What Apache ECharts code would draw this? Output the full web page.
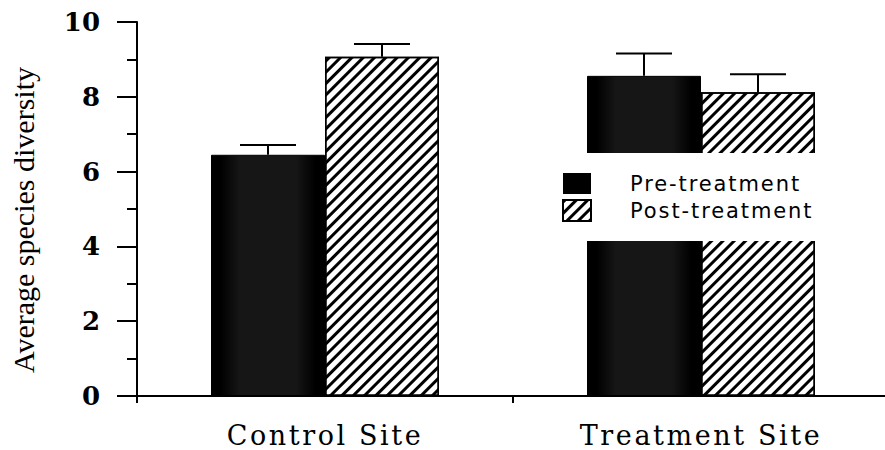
<!DOCTYPE html>
<html>
<head>
<meta charset="utf-8">
<script src="https://cdn.jsdelivr.net/npm/echarts@6/dist/echarts.min.js"></script>
<style>
  html, body { margin: 0; padding: 0; background: #fff; }
  #chart { width: 885px; height: 450px; }
  /* wide-set spacing for category names and legend entries */
  #chart text[style*="27px"][style*="DejaVu Serif"] { letter-spacing: 2.6px; }
  #chart text[style*="21px"] { letter-spacing: 1.9px; }
</style>
</head>
<body>
<div id="chart"></div>
<script>
// Site categories and mean species diversity before / after treatment
const sites = ['Control Site', 'Treatment Site'];
const preMean = [6.45, 8.56];
const postMean = [9.07, 8.12];
// Upper error bar lengths
const preErr = [0.26, 0.6];
const postErr = [0.34, 0.48];
const yTicks = [0, 2, 4, 6, 8, 10];

const BAR_W = 114;

const chart = echarts.init(document.getElementById('chart'), null, { renderer: 'svg' });

function errorSeries(name, means, errs, side) {
  return {
    type: 'custom',
    name: name,
    z: 5,
    silent: true,
    data: means.map((m, i) => [i, m, errs[i]]),
    renderItem: function (params, api) {
      const idx = api.value(0);
      const base = api.coord([idx, api.value(1)]);
      const top = api.coord([idx, api.value(1) + api.value(2)]);
      const cx = base[0] + side * BAR_W / 2;
      const half = 28;
      const st = { stroke: '#000', lineWidth: 2 };
      return {
        type: 'group',
        children: [
          { type: 'line', shape: { x1: cx, y1: base[1], x2: cx, y2: top[1] }, style: st },
          { type: 'line', shape: { x1: cx - half, y1: top[1], x2: cx + half, y2: top[1] }, style: st }
        ]
      };
    }
  };
}

const hatch = {
  symbol: 'rect',
  symbolSize: 1,
  dashArrayX: [1, 0],
  dashArrayY: [2.2, 4.3],
  rotation: -Math.PI / 4,
  color: '#000'
};

chart.setOption({
  animation: false,
  backgroundColor: '#fff',
  grid: { left: 137, top: 22, width: 752, height: 374, outerBoundsMode: 'none', containLabel: false },
  legend: {
    orient: 'vertical',
    left: 555,
    top: 153,
    padding: [20, 30, 19, 7],
    backgroundColor: '#fff',
    z: 10,
    itemWidth: 28,
    itemHeight: 21,
    itemGap: 5,
    textStyle: {
      fontFamily: 'DejaVu Sans',
      fontSize: 21,
      color: '#000',
      padding: [0, 0, 6, 34]
    },
    data: [
      { name: 'Pre-treatment', icon: 'rect', itemStyle: { color: '#000', borderWidth: 0 } },
      { name: 'Post-treatment', icon: 'rect' }
    ]
  },
  xAxis: {
    type: 'category',
    data: sites,
    boundaryGap: true,
    axisLine: { lineStyle: { color: '#000', width: 2 } },
    axisTick: { show: true, inside: false, length: 7, lineStyle: { color: '#000', width: 2 } },
    axisLabel: {
      margin: 26,
      color: '#000',
      fontFamily: 'DejaVu Serif',
      fontSize: 27,
      lineHeight: 27
    },
    splitLine: { show: false }
  },
  yAxis: {
    type: 'value',
    min: yTicks[0],
    max: yTicks[yTicks.length - 1],
    interval: 2,
    name: 'Average species diversity',
    nameLocation: 'middle',
    nameGap: 99,
    nameTextStyle: {
      fontFamily: 'Liberation Serif',
      fontSize: 30,
      color: '#000',
      padding: [0, 22, 0, 0]
    },
    axisLine: { show: true, lineStyle: { color: '#000', width: 2 } },
    axisTick: { show: true, inside: false, length: 20, lineStyle: { color: '#000', width: 2 } },
    minorTick: { show: true, splitNumber: 2, length: 10, lineStyle: { color: '#000', width: 2 } },
    axisLabel: {
      margin: 37,
      color: '#000',
      fontFamily: 'DejaVu Serif',
      fontWeight: 'bold',
      fontSize: 26
    },
    splitLine: { show: false }
  },
  series: [
    {
      type: 'bar',
      name: 'Pre-treatment',
      data: preMean,
      barWidth: BAR_W,
      barGap: '0%',
      itemStyle: {
        color: {
          type: 'linear', x: 0, y: 0, x2: 1, y2: 0,
          colorStops: [
            { offset: 0, color: '#000' },
            { offset: 0.08, color: '#000' },
            { offset: 0.25, color: '#161616' },
            { offset: 0.75, color: '#161616' },
            { offset: 0.92, color: '#000' },
            { offset: 1, color: '#000' }
          ]
        },
        borderColor: '#000',
        borderWidth: 1
      }
    },
    {
      type: 'bar',
      name: 'Post-treatment',
      data: postMean,
      barWidth: BAR_W,
      barGap: '0%',
      itemStyle: {
        color: '#fff',
        borderColor: '#000',
        borderWidth: 1.5,
        decal: hatch
      }
    },
    errorSeries('preErr', preMean, preErr, -1),
    errorSeries('postErr', postMean, postErr, 1)
  ]
});
</script>
</body>
</html>
